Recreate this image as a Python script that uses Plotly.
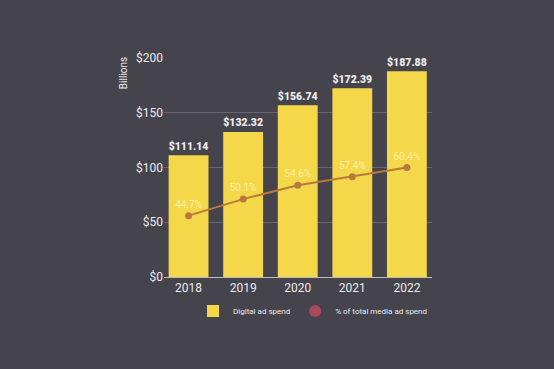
import plotly.graph_objects as go

years = ["2018", "2019", "2020", "2021", "2022"]
digital_spend = [111.14, 132.32, 156.74, 172.39, 187.88]
share_pct = [44.7, 50.1, 54.6, 57.4, 60.4]
spend_labels = ["$111.14", "$132.32", "$156.74", "$172.39", "$187.88"]
share_labels = ["44.7%", "50.1%", "54.6%", "57.4%", "60.4%"]
y_ticks = [0, 50, 100, 150, 200]
y_tick_labels = ["$0", "$50", "$100", "$150", "$200"]

BG = "#45434c"
YELLOW = "#f5d84a"
LINE = "#b87a3c"
TXT = "#ececec"
FONT = "Roboto"

fig = go.Figure()
fig.add_trace(go.Bar(
    x=years, y=digital_spend, name="Digital ad spend",
    marker=dict(color=YELLOW, line=dict(width=0)),
    text=spend_labels, textposition="outside", cliponaxis=False,
    textfont=dict(color=TXT, size=12, family=FONT + " Black"),
    showlegend=True,
))
fig.add_trace(go.Scatter(
    x=years, y=share_pct, yaxis="y2", mode="lines+markers+text",
    line=dict(color=LINE, width=2), marker=dict(color=LINE, size=7),
    text=share_labels, textposition="top center",
    textfont=dict(color="rgba(255,250,215,0.65)", size=10, family=FONT),
    showlegend=False, cliponaxis=False,
))
fig.add_trace(go.Scatter(
    x=[None], y=[None], mode="markers", name="% of total media ad spend",
    marker=dict(color="#a84a5c", size=7, symbol="circle"),
))

fig.update_layout(
    width=554, height=369,
    paper_bgcolor=BG, plot_bgcolor=BG,
    margin=dict(l=164, r=122, t=58, b=92),
    bargap=0.27,
    font=dict(family=FONT, color=TXT, size=11),
    xaxis=dict(
        type="category", range=[-0.45, 4.46],
        showgrid=False, showline=True, linecolor="#bdbdbd", linewidth=1,
        ticks="", tickfont=dict(size=12, color=TXT),
    ),
    yaxis=dict(
        range=[0, 200], tickvals=y_ticks, ticktext=y_tick_labels,
        showgrid=True, gridcolor="#67656e", gridwidth=1,
        zeroline=False, showline=False, ticks="",
        tickfont=dict(size=12, color=TXT),
    ),
    yaxis2=dict(
        range=[24.7, 96.1], overlaying="y", side="right",
        visible=False, showgrid=False,
    ),
    legend=dict(
        orientation="h", x=0.556, xanchor="center", y=-0.155, yanchor="middle",
        font=dict(size=8, color=TXT), bgcolor="rgba(0,0,0,0)",
        itemsizing="constant", itemwidth=30,
    ),
    annotations=[dict(
        text="Billions", xref="paper", yref="paper",
        x=-0.15, y=0.93, textangle=-90, showarrow=False,
        xanchor="center", yanchor="middle",
        font=dict(size=10, color=TXT),
    )],
)

fig.write_html("out.html", config={"displayModeBar": False},
               post_script="document.body.style.margin='0';")
